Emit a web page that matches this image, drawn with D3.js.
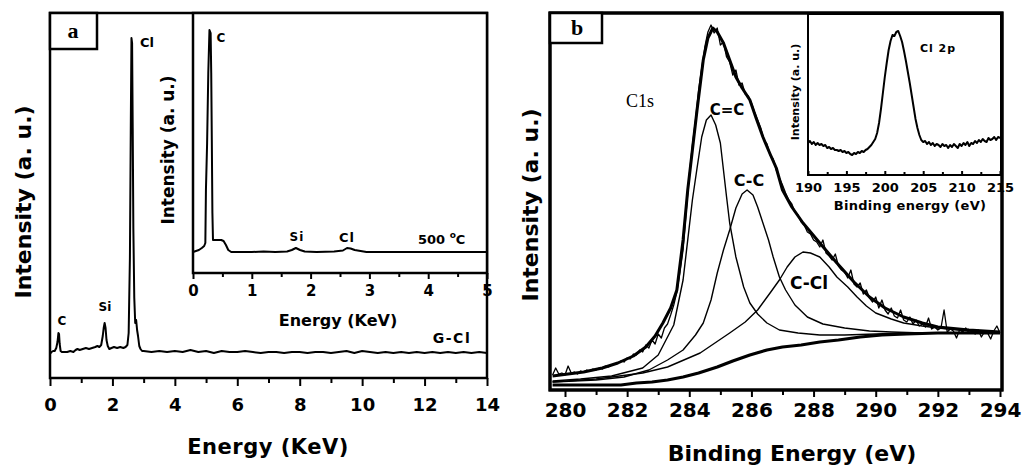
<!DOCTYPE html>
<html>
<head>
<meta charset="utf-8">
<script src="https://cdn.jsdelivr.net/npm/d3@7"></script>
<style>
  body { margin: 0; background: #fff; }
  svg text { font-family: "DejaVu Sans", sans-serif; font-weight: bold; fill: #000; }
</style>
</head>
<body>
<svg id="chart" width="1025" height="468"></svg>
<script>
// ---------- panel a : EDS of G-Cl ----------
const edsEnergy = [0.00, 0.05, 0.10, 0.15, 0.20, 0.24, 0.27, 0.29, 0.31, 0.34, 0.38, 0.45, 0.55, 0.65, 0.75,
  0.82, 0.88, 0.95, 1.05, 1.15, 1.25, 1.35, 1.45, 1.52, 1.58, 1.64, 1.69, 1.72, 1.75, 1.78, 1.81, 1.85,
  1.90, 1.97, 2.05, 2.15, 2.25, 2.35, 2.42, 2.48, 2.52, 2.56, 2.59, 2.61, 2.63, 2.65, 2.67, 2.70, 2.73,
  2.76, 2.79, 2.82, 2.86, 2.90, 2.95, 3.00, 3.25, 3.5, 3.75, 4.0, 4.25, 4.5, 4.75, 5.0, 5.25, 5.5, 5.75,
  6.0, 6.25, 6.5, 6.75, 7.0, 7.25, 7.5, 7.75, 8.0, 8.25, 8.5, 8.75, 9.0, 9.25, 9.5, 9.75, 10.0, 10.25,
  10.5, 10.75, 11.0, 11.25, 11.5, 11.75, 12.0, 12.25, 12.5, 12.75, 13.0, 13.25, 13.5, 13.75, 14.0];
const edsCounts = [24, 26, 27, 27, 30, 36, 45, 44, 34, 27, 26, 26, 26, 27, 26,
  28, 29, 28, 29, 30, 29, 30, 31, 32, 31, 33, 42, 50, 55, 50, 38, 32,
  29, 30, 31, 30, 31, 30, 31, 33, 45, 120, 260, 340, 335, 250, 150, 80, 55,
  58, 48, 42, 32, 29, 27, 27, 26, 27, 26, 27, 26, 28, 26, 27, 25, 27, 26,
  26, 27, 26, 25, 26, 26, 25, 26, 26, 25, 26, 26, 25, 26, 27, 25, 27, 26,
  25, 26, 25, 26, 25, 26, 25, 26, 25, 26, 25, 26, 25, 26, 25];

// inset a : 500 °C sample
const eds500Energy = [0.00, 0.05, 0.10, 0.15, 0.19, 0.21, 0.22, 0.24, 0.26, 0.28, 0.30, 0.31, 0.32, 0.33,
  0.34, 0.37, 0.42, 0.48, 0.52, 0.56, 0.60, 0.65, 0.8, 1.0, 1.2, 1.4, 1.6, 1.68, 1.75, 1.82, 1.9, 2.1,
  2.4, 2.55, 2.62, 2.68, 2.75, 2.85, 2.95, 3.2, 3.6, 4.0, 4.5, 5.0];
const eds500Counts = [21, 22, 23, 25, 27, 30, 83, 130, 200, 243, 240, 200, 133, 60,
  33, 33, 33, 33, 32, 28, 23, 21, 21, 21, 21.5, 21, 21.5, 23, 25, 23, 21.5, 21,
  21.5, 22.5, 25, 24.5, 23, 22, 21, 21, 21, 21, 21, 21];

const edsTicks = [0, 2, 4, 6, 8, 10, 12, 14];
const edsMinor = [1, 3, 5, 7, 9, 11, 13];
const insetATicks = [0, 1, 2, 3, 4, 5];
const insetAMinor = [0.5, 1.5, 2.5, 3.5, 4.5];

// ---------- panel b : XPS C1s ----------
const xpsStart = 279.6, xpsStep = 0.1;
const xpsCounts = [15, 22, 16, 17, 15, 24, 17, 18, 16, 19, 18, 20, 19, 21, 20, 22, 21, 24, 23, 25,
  26, 27, 29, 28, 32, 31, 36, 35, 40, 38, 45, 42, 50, 46, 56, 52, 62, 66, 75, 85,
  98, 118, 140, 178, 215, 245, 270, 300, 322, 343, 358, 365, 357, 362, 345, 348, 333, 328, 315, 320,
  305, 307, 296, 294, 287, 278, 270, 262, 250, 246, 235, 231, 220, 212, 205, 197, 190, 186, 178, 175,
  168, 165, 158, 156, 150, 148, 143, 150, 137, 134, 130, 136, 124, 120, 118, 112, 120, 106, 103, 107,
  96, 100, 92, 88, 93, 82, 90, 80, 76, 82, 74, 72, 80, 70, 68, 73, 66, 70, 64, 66,
  63, 72, 61, 63, 60, 62, 80, 58, 61, 59, 52, 60, 58, 62, 57, 59, 56, 60, 53, 58,
  57, 51, 59, 64, 57];

const envEnergy = [279.6, 280.6, 281.2, 281.7, 282.2, 282.6, 282.9, 283.15, 283.4, 283.6, 283.8, 283.95,
  284.1, 284.25, 284.45, 284.6, 284.76, 284.9, 285.1, 285.3, 285.5, 285.7, 285.95, 286.15, 286.37, 286.6,
  286.8, 287.0, 287.3, 287.66, 288.2, 288.75, 289.3, 289.8, 290.3, 290.9, 291.5, 292, 293, 294];
const envCounts = [14, 18, 22, 27, 34, 43, 54, 67, 82, 100, 150, 200,
  240, 280, 330, 352, 362, 358, 347, 330, 313, 302, 290, 272, 253, 236,
  222, 200, 183, 167, 147, 127, 108, 93, 82, 73, 67, 63, 60, 58];

const ccEnergy = [279.6, 280.5, 281.5, 282.5, 283.0, 283.5, 283.8, 284.1, 284.25, 284.4, 284.55, 284.7,
  284.85, 285.0, 285.2, 285.3, 285.5, 285.75, 285.95, 286.2, 286.5, 286.9, 287.5, 288.2, 289, 290, 291, 292, 294];
const ccCounts = [9, 11, 14, 22, 35, 65, 110, 190, 222, 253, 270, 275,
  265, 247, 193, 167, 133, 103, 87, 76, 67, 60, 57, 55, 55, 56, 57, 57, 57];

const csEnergy = [279.6, 281, 281.9, 282.7, 283.3, 283.8, 284.2, 284.45, 284.7, 284.9, 285.1, 285.3, 285.5,
  285.7, 285.86, 286.05, 286.2, 286.37, 286.55, 286.7, 286.9, 287.1, 287.4, 287.8, 288.3, 289, 289.8,
  290.5, 291.5, 294];
const csCounts = [8, 10, 13, 20, 30, 40, 55, 67, 90, 117, 140, 160, 182,
  196, 200, 195, 183, 167, 150, 133, 113, 100, 85, 73, 66, 62, 59,
  58, 57, 57];

const cclEnergy = [279.6, 281, 282.5, 283.3, 284.35, 285.3, 285.8, 286.2, 286.6, 286.9, 287.15, 287.4,
  287.66, 287.9, 288.2, 288.5, 288.75, 289.1, 289.4, 289.7, 290.0, 290.5, 290.9, 291.5, 292, 293, 294];
const cclCounts = [8, 11, 17, 23, 37, 57, 68, 80, 97, 110, 123, 133,
  138, 137, 133, 123, 113, 103, 93, 84, 77, 71, 67, 64, 62, 59, 58];

const bgEnergy = [279.6, 280.5, 281.5, 281.8, 282.3, 282.8, 283.3, 283.8, 284.3, 284.9, 285.4, 285.95,
  286.5, 287, 287.6, 288.2, 288.8, 289.5, 290.2, 291, 292, 293, 294];
const bgCounts = [5, 5, 5, 5, 7, 8, 10, 13, 17, 23, 29, 35,
  40, 43, 45, 48, 50, 53, 55, 56, 57, 57, 57];

const xpsTicks = [280, 282, 284, 286, 288, 290, 292, 294];
const xpsMinor = [281, 283, 285, 287, 289, 291, 293];

// inset b : Cl 2p
const cl2pStart = 190, cl2pStep = 0.25;
const cl2pCounts = [32, 34, 31, 33, 30, 32, 30, 31, 29, 30, 27, 28, 26, 27, 25, 25, 24, 25, 23, 24,
  22, 23, 21, 20, 22, 21, 23, 22, 24, 23, 25, 26, 28, 30, 33, 36, 42, 52, 66, 82,
  98, 112, 125, 134, 140, 139, 143, 144, 139, 133, 124, 114, 103, 92, 80, 68, 56, 47, 40, 35,
  33, 34, 31, 33, 30, 32, 29, 31, 30, 28, 31, 29, 30, 27, 30, 28, 31, 29, 27, 31,
  29, 32, 30, 33, 29, 32, 31, 34, 32, 35, 33, 36, 34, 33, 37, 35, 36, 38, 35, 38, 37];
const cl2pTicks = [190, 195, 200, 205, 210, 215];
const cl2pMinor = [192.5, 197.5, 202.5, 207.5, 212.5];

const svg = d3.select("#chart");
svg.append("rect").attr("width", 1025).attr("height", 468).attr("fill", "#fff");

const line = (x, y) => d3.line().x(d => x(d[0])).y(d => y(d[1]));
const zip = (a, b) => a.map((v, i) => [v, b[i]]);

function drawCurve(g, pts, x, y, w) {
    g.append("path")
        .datum(pts)
        .attr("d", line(x, y))
        .attr("fill", "none")
        .attr("stroke", "#000")
        .attr("stroke-width", w)
        .attr("stroke-linejoin", "round");
}

function bottomAxis(y0, scale, majors, minors, majorLen, minorLen, pad, fs) {
    const minorG = svg.append("g").attr("transform", `translate(0,${y0})`)
        .call(d3.axisBottom(scale).tickValues(minors).tickSize(minorLen).tickFormat(""));
    const majorG = svg.append("g").attr("transform", `translate(0,${y0})`)
        .call(d3.axisBottom(scale).tickValues(majors).tickSize(majorLen).tickPadding(pad).tickFormat(d3.format("d")));
    [minorG, majorG].forEach(g => {
        g.select(".domain").remove();
        g.selectAll("line").attr("stroke", "#000").attr("stroke-width", 2);
        g.selectAll("text").attr("font-size", fs).attr("font-family", null);
    });
    return majorG;
}

function frame(x0, y0, x1, y1, w) {
    svg.append("rect")
        .attr("x", x0).attr("y", y0)
        .attr("width", x1 - x0).attr("height", y1 - y0)
        .attr("fill", "#fff").attr("stroke", "#000").attr("stroke-width", w);
}

function label(x, y, txt, size, extra) {
    const t = svg.append("text")
        .attr("x", x).attr("y", y)
        .attr("text-anchor", "middle")
        .attr("dominant-baseline", "central")
        .attr("font-size", size)
        .text(txt);
    if (extra) extra(t);
    return t;
}

const serif = "'Liberation Serif', 'DejaVu Serif', serif";

// ===== panel a =====
const xA = d3.scaleLinear().domain([0, 14]).range([50, 487]);
const yA = d3.scaleLinear().domain([0, 365]).range([378, 13]);
frame(50, 13, 487, 378, 2.5);
drawCurve(svg, zip(edsEnergy, edsCounts), xA, yA, 2);
bottomAxis(378, xA, edsTicks, edsMinor, 8, 5, 12, 18);

// inset a
const xAi = d3.scaleLinear().domain([0, 5]).range([193, 487]);
const yAi = d3.scaleLinear().domain([0, 260]).range([273, 13]);
frame(193, 13, 487, 273, 2.5);
drawCurve(svg, zip(eds500Energy, eds500Counts), xAi, yAi, 2);
bottomAxis(273, xAi, insetATicks, insetAMinor, 6, 4, 6, 15);

// panel a box + labels
svg.append("rect").attr("x", 50).attr("y", 13).attr("width", 47).attr("height", 36)
    .attr("fill", "#fff").attr("stroke", "#000").attr("stroke-width", 2.5);
label(73, 30, "a", 22, t => t.style("font-family", serif));
label(62, 321, "C", 12);
label(105, 307, "Si", 12);
label(147, 42, "Cl", 13);
label(452, 338, "G-Cl", 14, t => t.attr("letter-spacing", 1.5));
label(221, 38, "C", 12);
label(297, 237, "Si", 12, t => t.attr("letter-spacing", 1));
label(347, 237, "Cl", 13, t => t.attr("letter-spacing", 1));
svg.append("text").attr("x", 418).attr("y", 244).attr("font-size", 13)
    .call(t => {
        t.append("tspan").text("500 ");
        t.append("tspan").attr("dy", -6).attr("font-size", 9).text("o");
        t.append("tspan").attr("dy", 6).text("C");
    });
label(338, 320, "Energy (KeV)", 16);
label(168, 150, "Intensity (a. u.)", 17, t => t.attr("transform", "rotate(-90,168,150)"));
label(268, 447, "Energy (KeV)", 21, t => t.attr("letter-spacing", 0.5));
label(23, 202, "Intensity (a. u.)", 22, t => t.attr("transform", "rotate(-90,23,202)"));

// ===== panel b =====
const xB = d3.scaleLinear().domain([280, 294]).range([565, 1000]);
const yB = d3.scaleLinear().domain([0, 377]).range([390, 13]);
frame(550, 13, 1002, 390, 3);
svg.append("clipPath").attr("id", "clipB").append("rect")
    .attr("x", 551).attr("y", 14).attr("width", 450).attr("height", 375);
const gB = svg.append("g").attr("clip-path", "url(#clipB)");
const xpsPts = xpsCounts.map((v, i) => [xpsStart + i * xpsStep, v]);
drawCurve(gB, zip(bgEnergy, bgCounts), xB, yB, 3.2);
drawCurve(gB, zip(cclEnergy, cclCounts), xB, yB, 1.4);
drawCurve(gB, zip(csEnergy, csCounts), xB, yB, 1.4);
drawCurve(gB, zip(ccEnergy, ccCounts), xB, yB, 1.4);
drawCurve(gB, xpsPts, xB, yB, 1.3);
drawCurve(gB, zip(envEnergy, envCounts), xB, yB, 3);
bottomAxis(390, xB, xpsTicks, xpsMinor, 7, 5, 6, 20);

// inset b
const xBi = d3.scaleLinear().domain([190, 215]).range([808, 1000]);
const yBi = d3.scaleLinear().domain([0, 160]).range([175, 15]);
frame(808, 14, 1001, 175, 2);
drawCurve(svg, cl2pCounts.map((v, i) => [cl2pStart + i * cl2pStep, v]), xBi, yBi, 2);
bottomAxis(175, xBi, cl2pTicks, cl2pMinor, -4, -3, 8, 13);

// redraw main frame outline on top
svg.append("rect").attr("x", 550).attr("y", 13).attr("width", 452).attr("height", 377)
    .attr("fill", "none").attr("stroke", "#000").attr("stroke-width", 3);
svg.append("rect").attr("x", 550).attr("y", 13).attr("width", 52).attr("height", 30)
    .attr("fill", "#fff").attr("stroke", "#000").attr("stroke-width", 2.5);
label(577, 27, "b", 22, t => t.style("font-family", serif));
label(640, 101, "C1s", 18, t => t.style("font-family", serif).style("font-weight", "normal"));
label(727, 110, "C=C", 15);
label(749, 180, "C-C", 16);
label(809, 283, "C-Cl", 17);
label(938, 48, "Cl 2p", 11, t => t.attr("letter-spacing", 1));
label(910, 205, "Binding energy (eV)", 13, t => t.attr("letter-spacing", 0.3));
label(795, 92, "Intensity (a. u.)", 11, t => t.attr("transform", "rotate(-90,795,92)"));
label(792, 453, "Binding Energy (eV)", 22);
label(530, 205, "Intensity (a. u.)", 22, t => t.attr("transform", "rotate(-90,530,205)"));
</script>
</body>
</html>
